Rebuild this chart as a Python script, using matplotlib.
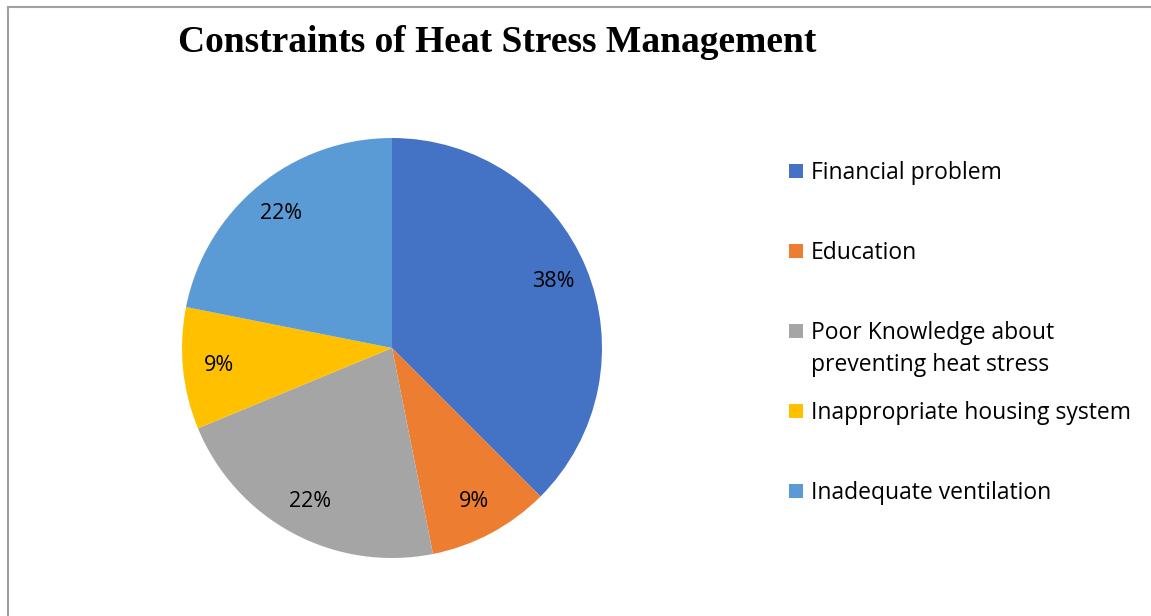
import matplotlib
matplotlib.use("Agg")
import matplotlib.pyplot as plt
from matplotlib.patches import Rectangle
from matplotlib.lines import Line2D

categories = ["Financial problem", "Education",
              "Poor Knowledge about\npreventing heat stress",
              "Inappropriate housing system", "Inadequate ventilation"]
counts = [12, 3, 7, 3, 7]
colors = ["#4472C4", "#ED7D31", "#A5A5A5", "#FFC000", "#5B9BD5"]
title = "Constraints of Heat Stress Management"

W, H = 1151, 616
fig = plt.figure(figsize=(W / 100, H / 100), dpi=100)

def fx(px):
    return px / W

def fy(py):
    return 1 - py / H

# frame lines (left and top)
fig.add_artist(Line2D([fx(8), fx(8)], [fy(7), 0], color="#A0A0A0", lw=1.5))
fig.add_artist(Line2D([fx(8), 1], [fy(7), fy(7)], color="#A0A0A0", lw=1.5))

cx, cy, r = 392, 348, 210
ax = fig.add_axes([fx(cx - r), fy(cy + r), (2 * r) / W, (2 * r) / H])
wedges, texts, autotexts = ax.pie(
    counts, colors=colors, startangle=90, counterclock=False,
    autopct="%.0f%%", pctdistance=0.83,
    wedgeprops=dict(linewidth=0),
    textprops=dict(fontsize=15.5, family="Open Sans", color="black"))
ax.set_xlim(-1, 1)
ax.set_ylim(-1, 1)
ax.set_aspect("equal")

fig.text(fx(497), fy(43), title, ha="center", va="center",
         fontsize=27, fontweight="bold", family="Liberation Serif")

# legend
y0 = 171
step = 80
line_h = 32
for i, (lab, col) in enumerate(zip(categories, colors)):
    y = y0 + step * i
    fig.add_artist(Rectangle((fx(789), fy(y + 7)), 14 / W, 14 / H,
                             facecolor=col, edgecolor="none",
                             transform=fig.transFigure))
    for j, line in enumerate(lab.split("\n")):
        fig.text(fx(811), fy(y + 8 + line_h * j), line, ha="left",
                 va="baseline", fontsize=16.5, family="Open Sans")

fig.savefig("out.png", dpi=100)
